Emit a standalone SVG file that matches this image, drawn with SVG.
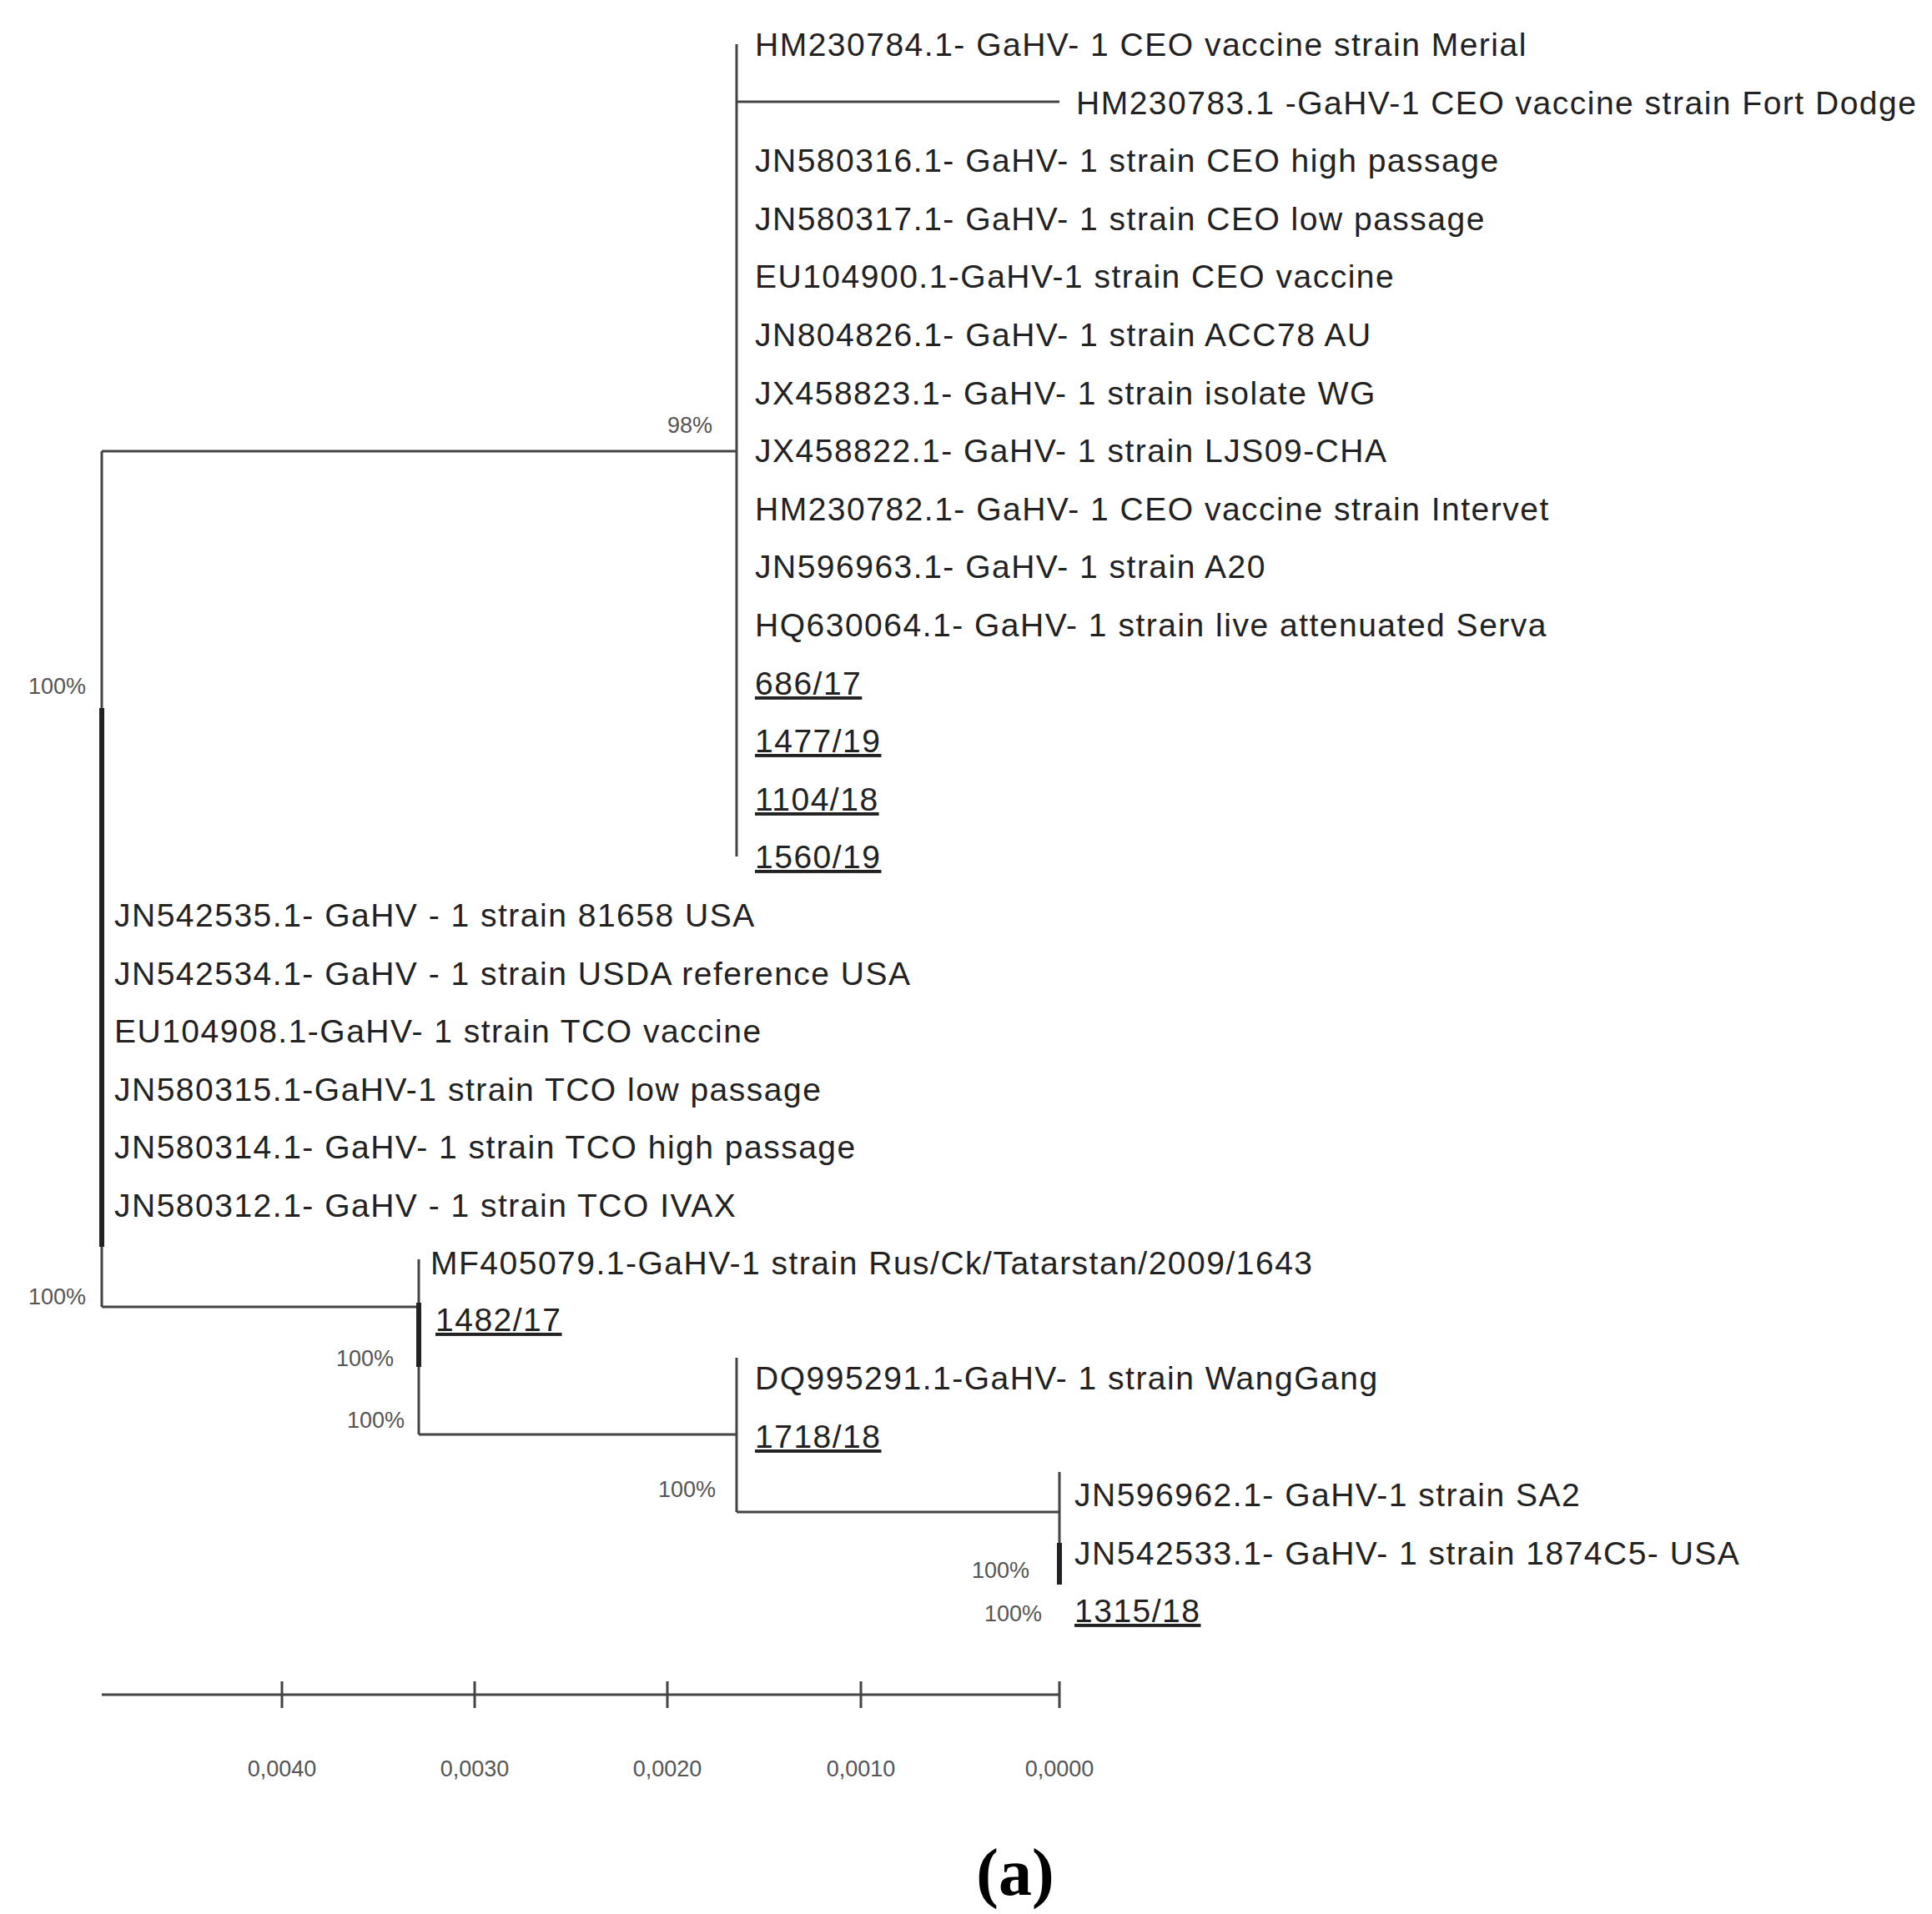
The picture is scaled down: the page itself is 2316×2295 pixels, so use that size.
<svg xmlns="http://www.w3.org/2000/svg" width="2316" height="2295" viewBox="0 0 2316 2295">
<style>
.l{font-family:"Liberation Sans",Arial,sans-serif;font-size:39px;letter-spacing:1.5px;fill:#222}
.u{text-decoration:underline}
.b{font-family:"Liberation Sans",Arial,sans-serif;font-size:27px;fill:#555}
.t{font-family:"Liberation Sans",Arial,sans-serif;font-size:27px;fill:#555;text-anchor:middle}
.e{stroke:#444;stroke-width:3;fill:none}
.k{stroke:#222;stroke-width:6;fill:none}
</style>
<rect width="2316" height="2295" fill="#fff"/>
<g id="connectors">
<path class="e" d="M122 541V1567M122 541H883M883 53V1027M883 122H1270M122 1567H502M502 1510V1720M502 1720H883M883 1628V1813M883 1813H1270M1270 1765V1898"/>
<path class="k" d="M122 849V1495M502 1562V1639M1270 1850V1900"/>
</g>
<g id="labels">
<text class="l" x="905" y="67">HM230784.1- GaHV- 1 CEO vaccine strain Merial</text>
<text class="l" x="1290" y="137">HM230783.1 -GaHV-1 CEO vaccine strain Fort Dodge</text>
<text class="l" x="905" y="206">JN580316.1- GaHV- 1 strain CEO high passage</text>
<text class="l" x="905" y="276">JN580317.1- GaHV- 1 strain CEO low passage</text>
<text class="l" x="905" y="345">EU104900.1-GaHV-1 strain CEO vaccine</text>
<text class="l" x="905" y="415">JN804826.1- GaHV- 1 strain ACC78 AU</text>
<text class="l" x="905" y="485">JX458823.1- GaHV- 1 strain isolate WG</text>
<text class="l" x="905" y="554">JX458822.1- GaHV- 1 strain LJS09-CHA</text>
<text class="l" x="905" y="624">HM230782.1- GaHV- 1 CEO vaccine strain Intervet</text>
<text class="l" x="905" y="693">JN596963.1- GaHV- 1 strain A20</text>
<text class="l" x="905" y="763">HQ630064.1- GaHV- 1 strain live attenuated Serva</text>
<text class="l u" x="905" y="833">686/17</text>
<text class="l u" x="905" y="902">1477/19</text>
<text class="l u" x="905" y="972">1104/18</text>
<text class="l u" x="905" y="1041">1560/19</text>
<text class="l" x="137" y="1111">JN542535.1- GaHV - 1 strain 81658 USA</text>
<text class="l" x="137" y="1181">JN542534.1- GaHV - 1 strain USDA reference USA</text>
<text class="l" x="137" y="1250">EU104908.1-GaHV- 1 strain TCO vaccine</text>
<text class="l" x="137" y="1320">JN580315.1-GaHV-1 strain TCO low passage</text>
<text class="l" x="137" y="1389">JN580314.1- GaHV- 1 strain TCO high passage</text>
<text class="l" x="137" y="1459">JN580312.1- GaHV - 1 strain TCO IVAX</text>
<text class="l" x="516" y="1528">MF405079.1-GaHV-1 strain Rus/Ck/Tatarstan/2009/1643</text>
<text class="l u" x="522" y="1596">1482/17</text>
<text class="l" x="905" y="1666">DQ995291.1-GaHV- 1 strain WangGang</text>
<text class="l u" x="905" y="1736">1718/18</text>
<text class="l" x="1288" y="1806">JN596962.1- GaHV-1 strain SA2</text>
<text class="l" x="1288" y="1876">JN542533.1- GaHV- 1 strain 1874C5- USA</text>
<text class="l u" x="1288" y="1945">1315/18</text>
</g>
<g id="support">
<text class="b" x="800" y="519">98%</text>
<text class="b" x="34" y="832">100%</text>
<text class="b" x="34" y="1564">100%</text>
<text class="b" x="403" y="1638">100%</text>
<text class="b" x="416" y="1712">100%</text>
<text class="b" x="789" y="1795">100%</text>
<text class="b" x="1165" y="1892">100%</text>
<text class="b" x="1180" y="1944">100%</text>
</g>
<g id="axis">
<path class="e" d="M122 2032H1270M338 2016V2048M569 2016V2048M800 2016V2048M1032 2016V2048M1270 2016V2048"/>
<text class="t" x="338" y="2130">0,0040</text>
<text class="t" x="569" y="2130">0,0030</text>
<text class="t" x="800" y="2130">0,0020</text>
<text class="t" x="1032" y="2130">0,0010</text>
<text class="t" x="1270" y="2130">0,0000</text>
</g>
<text x="1217" y="2272" text-anchor="middle" style="font-family:'Liberation Serif',serif;font-size:80px;font-weight:bold;fill:#000">(a)</text>
</svg>
